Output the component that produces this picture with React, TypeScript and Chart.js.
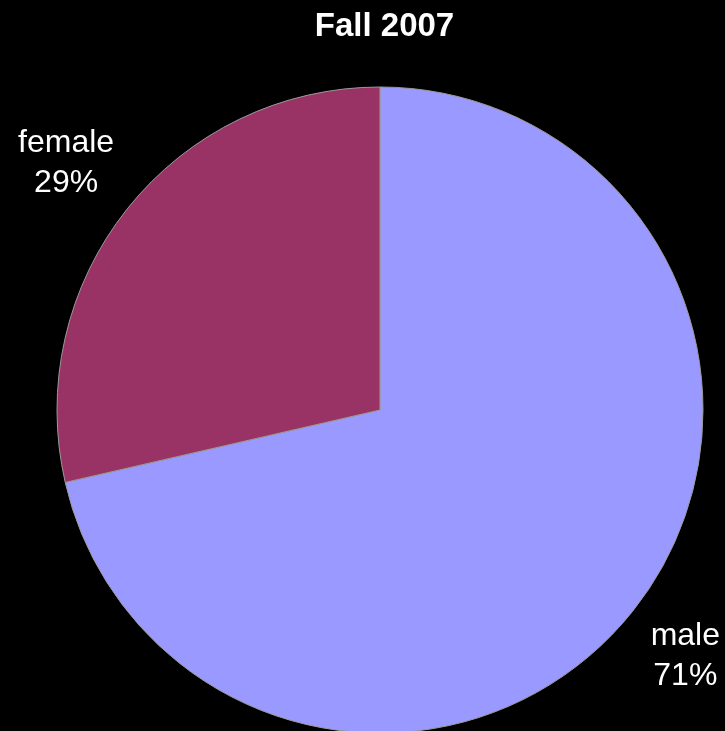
import React, { useEffect, useRef } from "react";
import { Chart, registerables } from "chart.js";

Chart.register(...registerables);

const TITLE = "Fall 2007";
const categories = ["male", "female"];
const values = [71.4, 28.6];
const percentLabels = ["71%", "29%"];
const colors = ["#9999FF", "#993366"];

const FONT = "'Liberation Sans', Arial, Helvetica, sans-serif";

export default function App() {
  const ref = useRef<HTMLCanvasElement>(null);

  useEffect(() => {
    if (!ref.current) return;

    const textPlugin = {
      id: "textLabels",
      afterDraw(chart: any) {
        const ctx = chart.ctx;
        const meta = chart.getDatasetMeta(0);
        ctx.save();
        ctx.fillStyle = "#ffffff";
        ctx.textBaseline = "alphabetic";
        ctx.textAlign = "center";

        // title
        ctx.font = `bold 33px ${FONT}`;
        const first = meta.data[0];
        ctx.fillText(TITLE, first.x + 4.5, 36);

        // slice labels, placed so the label box sits just outside the rim
        ctx.font = `32px ${FONT}`;
        const ascent = 23;
        const lineStep = 40;
        const gap = 21;
        meta.data.forEach((arc: any, i: number) => {
          const p = arc.getProps(["x", "y", "startAngle", "endAngle", "outerRadius"], true);
          const mid = (p.startAngle + p.endAngle) / 2;
          const c = Math.cos(mid);
          const s = Math.sin(mid);
          const w = Math.max(
            ctx.measureText(categories[i]).width,
            ctx.measureText(percentLabels[i]).width
          );
          const hw = w / 2;
          const hh = (ascent + lineStep) / 2;
          const a = Math.sign(c) * hw;
          const b = Math.sign(s) * hh;
          const R = p.outerRadius + gap;
          const k = a * c + b * s;
          const t = k + Math.sqrt(k * k - (a * a + b * b - R * R));
          let cx = p.x + c * t;
          const cy = p.y + s * t;
          cx = Math.min(Math.max(cx, 5 + hw), chart.width - 5 - hw);
          const base1 = cy - hh + ascent;
          ctx.fillText(categories[i], cx, base1);
          ctx.fillText(percentLabels[i], cx, base1 + lineStep);
        });
        ctx.restore();
      },
    };

    const chart = new Chart(ref.current, {
      type: "pie",
      data: {
        labels: categories,
        datasets: [
          {
            data: values,
            backgroundColor: colors,
            borderColor: "#9a9a9a",
            borderWidth: 1,
          },
        ],
      },
      options: {
        animation: false,
        responsive: false,
        devicePixelRatio: 1,
        layout: { padding: { left: 35, right: 0, top: 86.5, bottom: 6.5 } },
        plugins: {
          legend: { display: false },
          tooltip: { enabled: false },
          title: { display: false },
        },
      },
      plugins: [textPlugin],
    });

    return () => chart.destroy();
  }, []);

  return (
    <div
      style={{
        position: "fixed",
        left: 0,
        top: 0,
        width: 725,
        height: 740,
        background: "#000000",
      }}
    >
      <canvas ref={ref} width={725} height={740} style={{ display: "block", width: 725, height: 740 }} />
    </div>
  );
}
